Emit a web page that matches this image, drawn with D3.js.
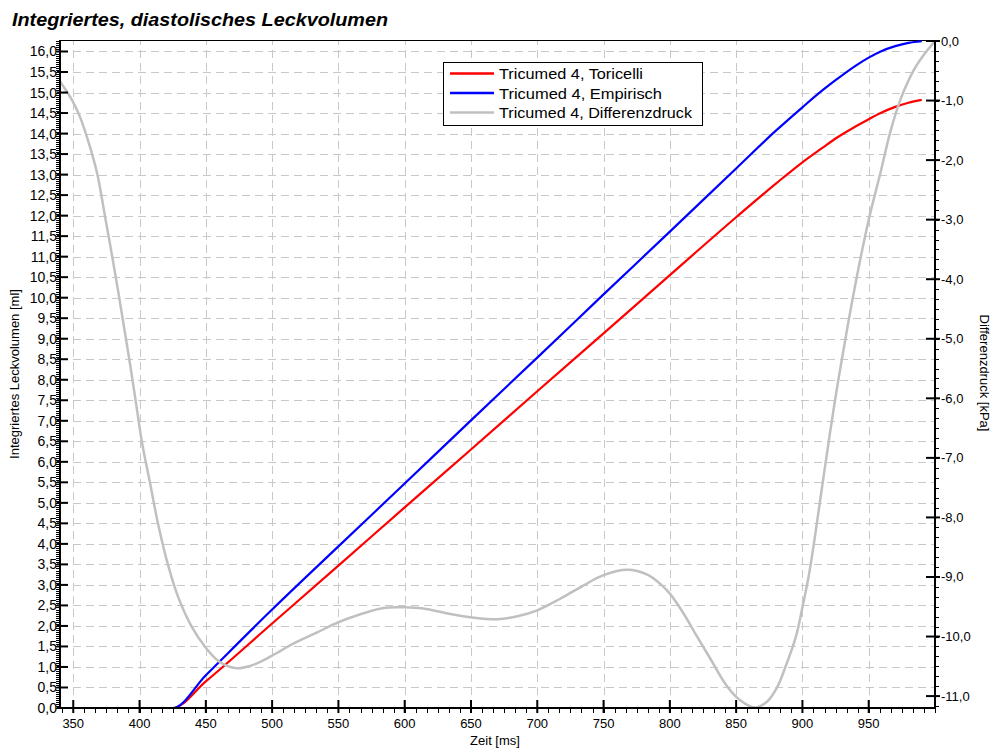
<!DOCTYPE html>
<html>
<head>
<meta charset="utf-8">
<script src="https://cdn.jsdelivr.net/npm/d3@7"></script>
<style>
  html, body { margin: 0; padding: 0; background: #fff; }
  svg { display: block; }
  text { font-family: Arial, "Liberation Sans", sans-serif; fill: #000; }
</style>
</head>
<body>
<svg id="chart" width="993" height="748"></svg>
<script>
// ---- Data ----
const title = "Integriertes, diastolisches Leckvolumen";
const seriesNames = ["Tricumed 4, Toricelli", "Tricumed 4, Empirisch", "Tricumed 4, Differenzdruck"];
const seriesColors = ["#ff0000", "#0000ff", "#c0c0c0"];

const volTimes    = [340, 425, 450, 500, 550, 600, 650, 700, 750, 800, 850, 880, 900, 915, 925, 940, 950, 959, 970, 980, 990];
const toricelli   = [0, 0, 0.65, 2.06, 3.47, 4.89, 6.30, 7.72, 9.13, 10.55, 11.96, 12.78, 13.30, 13.65, 13.88, 14.17, 14.35, 14.50, 14.65, 14.75, 14.82];
const empirisch   = [0, 0, 0.80, 2.40, 3.94, 5.47, 7.01, 8.54, 10.08, 11.61, 13.15, 14.07, 14.64, 15.05, 15.30, 15.65, 15.85, 16.00, 16.13, 16.21, 16.25];

const dpTimes = [340, 349, 355, 361, 368, 374, 379, 384, 389, 393, 397, 402, 408, 414, 422, 429, 439, 449, 460, 472, 484,
                 500, 516, 534, 550, 566, 584, 600, 614, 634, 651, 670, 685, 700, 717, 735, 750, 768, 783, 793, 800,
                 810, 820, 831, 843, 853, 864, 873, 881, 888, 895, 900, 905, 909, 915, 921, 927, 934, 942, 950, 959,
                 966, 974, 984, 992, 1000];
const differenzdruck = [-0.68, -0.99, -1.27, -1.66, -2.22, -2.95, -3.57, -4.22, -4.90, -5.45, -6.03, -6.76, -7.43, -8.11, -8.84, -9.33, -9.82, -10.16, -10.42, -10.53, -10.49,
                 -10.32, -10.12, -9.93, -9.76, -9.63, -9.52, -9.51, -9.53, -9.62, -9.68, -9.71, -9.66, -9.56, -9.37, -9.14, -8.97, -8.88, -8.96, -9.12, -9.28,
                 -9.60, -9.98, -10.39, -10.83, -11.07, -11.19, -11.10, -10.85, -10.46, -10.01, -9.51, -8.95, -8.39, -7.46, -6.55, -5.70, -4.80, -3.85, -3.00, -2.20,
                 -1.55, -0.98, -0.49, -0.22, 0];

const xMajorTicks = [350, 400, 450, 500, 550, 600, 650, 700, 750, 800, 850, 900, 950];
const yLeftMajorTicks = d3.range(0, 16.001, 0.5);
const yRightMajorTicks = [0, -1, -2, -3, -4, -5, -6, -7, -8, -9, -10, -11];

const xLabel = "Zeit [ms]";
const yLeftLabel = "Integriertes Leckvolumen [ml]";
const yRightLabel = "Differenzdruck [kPa]";

// ---- Layout ----
const L = 60, R = 935, T = 40, B = 708;
const svg = d3.select("#chart");

const x = d3.scaleLinear().domain([340, 1000]).range([L, R]);
const yL = d3.scaleLinear().domain([0, 16.28]).range([B, T]);
const yR = d3.scaleLinear().domain([-11.2, 0]).range([B, T + 1]);

const fmt = v => (Math.abs(v) < 1e-9 ? 0 : v).toFixed(1).replace(".", ",");

// grid
const grid = svg.append("g").attr("stroke", "#c8c8c8").attr("stroke-width", 1).attr("stroke-dasharray", "8,5");
grid.selectAll("line.h").data(yLeftMajorTicks.filter(d => d > 0)).enter().append("line")
  .attr("x1", L).attr("x2", R)
  .attr("y1", d => Math.round(yL(d)) + 0.5).attr("y2", d => Math.round(yL(d)) + 0.5);
grid.selectAll("line.v").data(xMajorTicks).enter().append("line")
  .attr("y1", B).attr("y2", T)
  .attr("x1", d => Math.round(x(d)) + 0.5).attr("x2", d => Math.round(x(d)) + 0.5);

// top border
svg.append("line").attr("x1", L).attr("x2", R).attr("y1", T + 0.5).attr("y2", T + 0.5)
  .attr("stroke", "#000").attr("stroke-width", 1);

// series
svg.append("clipPath").attr("id", "clip").append("rect")
  .attr("x", L).attr("y", T).attr("width", R - L).attr("height", B - T);
const plot = svg.append("g").attr("clip-path", "url(#clip)");

const lineL = d3.line().x(d => x(d[0])).y(d => yL(d[1])).curve(d3.curveMonotoneX);
const lineR = d3.line().x(d => x(d[0])).y(d => yR(d[1])).curve(d3.curveCatmullRom.alpha(0.5));

plot.append("path").datum(volTimes.map((t, i) => [t, toricelli[i]]))
  .attr("d", lineL).attr("fill", "none").attr("stroke", seriesColors[0]).attr("stroke-width", 2.2);
plot.append("path").datum(volTimes.map((t, i) => [t, empirisch[i]]))
  .attr("d", lineL).attr("fill", "none").attr("stroke", seriesColors[1]).attr("stroke-width", 2.2);
plot.append("path").datum(dpTimes.map((t, i) => [t, differenzdruck[i]]))
  .attr("d", lineR).attr("fill", "none").attr("stroke", seriesColors[2]).attr("stroke-width", 2.5);

// axes
const axisG = svg.append("g").attr("stroke", "#000");
// left axis
axisG.append("line").attr("x1", L).attr("x2", L).attr("y1", T).attr("y2", B + 1).attr("stroke-width", 2);
const leftMinor = d3.range(0, 16.28, 0.05);
axisG.selectAll("line.lm").data(leftMinor).enter().append("line")
  .attr("x1", L - 4).attr("x2", L).attr("y1", d => Math.round(yL(d)) + 0.5).attr("y2", d => Math.round(yL(d)) + 0.5)
  .attr("stroke-width", 1);
axisG.selectAll("line.lM").data(yLeftMajorTicks).enter().append("line")
  .attr("x1", L - 3).attr("x2", L + 8).attr("y1", d => yL(d)).attr("y2", d => yL(d))
  .attr("stroke-width", 2);
svg.selectAll("text.lt").data(yLeftMajorTicks).enter().append("text")
  .attr("x", L - 3).attr("y", d => yL(d) + 5).attr("text-anchor", "end")
  .attr("font-size", 14).text(fmt);

// right axis
axisG.append("line").attr("x1", R).attr("x2", R).attr("y1", T).attr("y2", B + 1).attr("stroke-width", 2);
const rightMinor = d3.range(0, 68).map(i => -i / 6).filter(v => v >= -11.2);
axisG.selectAll("line.rm").data(rightMinor).enter().append("line")
  .attr("x1", R).attr("x2", R + 4).attr("y1", d => Math.round(yR(d)) + 0.5).attr("y2", d => Math.round(yR(d)) + 0.5)
  .attr("stroke-width", 1);
axisG.selectAll("line.rM").data(yRightMajorTicks).enter().append("line")
  .attr("x1", R - 9).attr("x2", R + 5).attr("y1", d => yR(d)).attr("y2", d => yR(d))
  .attr("stroke-width", 2);
svg.selectAll("text.rt").data(yRightMajorTicks).enter().append("text")
  .attr("x", R + 6).attr("y", d => yR(d) + 4.5).attr("text-anchor", "start")
  .attr("font-size", 13).text(fmt);

// bottom axis
axisG.append("line").attr("x1", L - 1).attr("x2", R + 1).attr("y1", B).attr("y2", B).attr("stroke-width", 2);
const xMinor = d3.range(0, 80).map(i => 340 + 5 / 3 + i * 50 / 6).filter(v => v <= 1000);
axisG.selectAll("line.xm").data(xMinor).enter().append("line")
  .attr("x1", d => Math.round(x(d)) + 0.5).attr("x2", d => Math.round(x(d)) + 0.5).attr("y1", B).attr("y2", B + 5)
  .attr("stroke-width", 1);
axisG.selectAll("line.xM").data(xMajorTicks).enter().append("line")
  .attr("x1", d => x(d)).attr("x2", d => x(d)).attr("y1", B - 8).attr("y2", B + 5)
  .attr("stroke-width", 2);
svg.selectAll("text.xt").data(xMajorTicks).enter().append("text")
  .attr("x", d => x(d)).attr("y", 728).attr("text-anchor", "middle")
  .attr("font-size", 13).text(d => d);

// axis titles
svg.append("text").attr("x", 495).attr("y", 745).attr("text-anchor", "middle").attr("font-size", 13).text(xLabel);
svg.append("text").attr("transform", "translate(19,374) rotate(-90)").attr("text-anchor", "middle")
  .attr("font-size", 13).text(yLeftLabel);
svg.append("text").attr("transform", "translate(980,373) rotate(90)").attr("text-anchor", "middle")
  .attr("font-size", 13).text(yRightLabel);

// title
svg.append("text").attr("x", 12).attr("y", 26).attr("font-size", 19).attr("font-weight", "bold")
  .attr("font-style", "italic").attr("textLength", 376).attr("lengthAdjust", "spacingAndGlyphs").text(title);

// legend
const lg = svg.append("g");
lg.append("rect").attr("x", 443.5).attr("y", 62.5).attr("width", 259).attr("height", 63)
  .attr("fill", "#fff").attr("stroke", "#000").attr("stroke-width", 1);
const rowY = [73.5, 93, 112.5];
const legendTextWidths = [144, 163, 193];
seriesNames.forEach((n, i) => {
  lg.append("line").attr("x1", 450).attr("x2", 494).attr("y1", rowY[i]).attr("y2", rowY[i])
    .attr("stroke", seriesColors[i]).attr("stroke-width", 2.5);
  lg.append("text").attr("x", 499).attr("y", rowY[i] + 5.5).attr("font-size", 15.5)
    .attr("textLength", legendTextWidths[i]).attr("lengthAdjust", "spacingAndGlyphs").text(n);
});
</script>
</body>
</html>
